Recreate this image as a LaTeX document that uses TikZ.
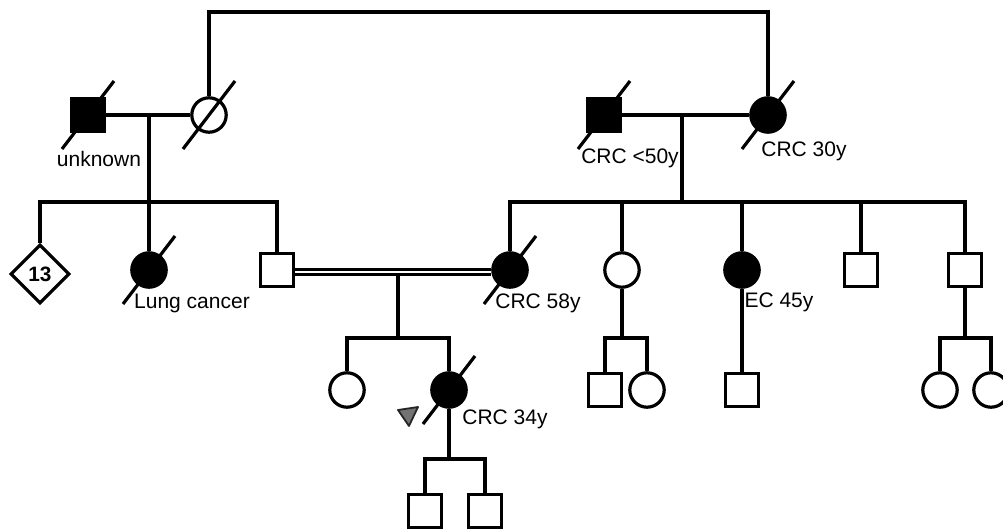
\documentclass[tikz,border=0pt]{standalone}
\usepackage{fontspec}
\setmainfont{Liberation Sans}
\usetikzlibrary{shapes.geometric}
\tikzset{
  conn/.style={line width=1.6pt},
  male/.style={draw, line width=1.6pt, rectangle, minimum size=16.8pt, inner sep=0pt, fill=white},
  female/.style={draw, line width=1.6pt, circle, minimum size=17.2pt, inner sep=0pt, fill=white},
  aff/.style={fill=black},
  unk/.style={draw, line width=1.6pt, diamond, minimum size=29.5pt, inner sep=0pt, fill=white, font=\bfseries\fontsize{10.4}{12}\selectfont},
  lbl/.style={inner sep=0pt, font=\fontsize{10.5}{12}\selectfont},
  dline/.style={line width=1.6pt},
  dbl/.style={double, line width=1.3pt, double distance=1.1pt},
  proband/.style={fill=black!55, draw=black!85, line width=0.9pt, line join=round},
}
\newcommand\dead[1]{\draw[dline] ([shift={(-26,34)}]#1.center) -- ([shift={(26,-34)}]#1.center);}
\begin{document}
\begin{tikzpicture}[x=0.5pt,y=-0.5pt]
\useasboundingbox (0,0) rectangle (1003,530);
% Generation I
\node[male,aff]   (I1) at (88,115) {};
\node[female]     (I2) at (209,115) {};
\node[male,aff]   (I3) at (604,115) {};
\node[female,aff] (I4) at (768,115) {};
% Generation II
\node[unk]        (II1) at (40,274) {13};
\node[female,aff] (II2) at (149,270) {};
\node[male]       (II3) at (277,270) {};
\node[female,aff] (II4) at (510,270) {};
\node[female]     (II5) at (622,270) {};
\node[female,aff] (II6) at (742,270) {};
\node[male]       (II7) at (861,270) {};
\node[male]       (II8) at (965,270) {};
% Generation III
\node[female]     (III1) at (347,390) {};
\node[female,aff] (III2) at (449,390) {};
\node[male]       (III3) at (605,390) {};
\node[female]     (III4) at (647,390) {};
\node[male]       (III5) at (742,390) {};
\node[female]     (III6) at (940,390) {};
\node[female]     (III7) at (991,390) {};
% Generation IV
\node[male]       (IV1) at (425,511) {};
\node[male]       (IV2) at (485,511) {};

% junction coordinates
\coordinate (top) at (490,12);
\coordinate (m1) at (149,115);
\coordinate (s1) at (149,202);
\coordinate (m2) at (682,115);
\coordinate (s2) at (682,202);
\coordinate (m3) at (398,274);
\coordinate (s3) at (398,338);
\coordinate (s4) at (449,459);
\coordinate (s5) at (622,338);
\coordinate (s6) at (965,338);

% connectors
\draw[conn] (I2.north) |- (top) -| (I4.north);
\draw[conn] (I1.east) -- (I2.west);
\draw[conn] (I3.east) -- (I4.west);
\draw[conn] (m1) -- (s1);
\draw[conn] (m2) -- (s2);
\draw[conn] (II1.north) |- (s1) -| (II3.north);
\draw[conn] (s1) -- (II2.north);
\draw[conn] (II4.north) |- (s2) -| (II8.north);
\draw[conn] (II5.north) -- (II5.north |- s2);
\draw[conn] (II6.north) -- (II6.north |- s2);
\draw[conn] (II7.north) -- (II7.north |- s2);
\draw[dbl] ([yshift=-1pt]II3.east) -- ([yshift=-1pt]II4.west);
\draw[conn] (m3) -- (s3);
\draw[conn] (III1.north) |- (s3) -| (III2.north);
\draw[conn] (III2.south) -- (s4);
\draw[conn] (IV1.north) |- (s4) -| (IV2.north);
\draw[conn] (II5.south) -- (s5);
\draw[conn] (III3.north) |- (s5) -| (III4.north);
\draw[conn] (II6.south) -- (III5.north);
\draw[conn] (II8.south) -- (s6);
\draw[conn] (III6.north) |- (s6) -| (III7.north);

% deceased marks
\dead{I1}
\dead{I2}
\dead{I3}
\dead{I4}
\dead{II2}
\dead{II4}
\dead{III2}

% proband arrow
\draw[proband] (398,410) -- (418,407) -- (409,426) -- cycle;

% labels
\node[lbl] (L1) at (99,159) {unknown};
\node[lbl] (L2) at (630,158) {CRC <50y};
\node[lbl] (L3) at (804,151) {CRC 30y};
\node[lbl] (L4) at (192,303) {Lung cancer};
\node[lbl] (L5) at (538,303) {CRC 58y};
\node[lbl] (L6) at (779,302) {EC 45y};
\node[lbl] (L7) at (505,419) {CRC 34y};
\end{tikzpicture}
\end{document}
